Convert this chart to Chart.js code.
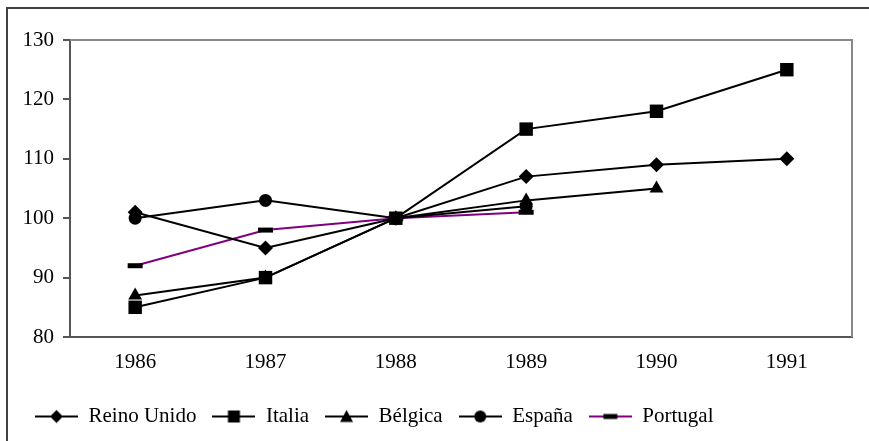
<!DOCTYPE html>
<html>
<head>
<meta charset="utf-8">
<script src="https://cdn.jsdelivr.net/npm/chart.js@4.4.1/dist/chart.umd.min.js"></script>
<style>
  html, body { margin: 0; padding: 0; background: #fff; overflow: hidden; }
  #chart { display: block; }
</style>
</head>
<body>
<canvas id="chart" width="869" height="441"></canvas>
<script>
let years = ['1986', '1987', '1988', '1989', '1990', '1991'];

let reinoUnido = [101, 95, 100, 107, 109, 110];
let italia = [85, 90, 100, 115, 118, 125];
let belgica = [87, 90, 100, 103, 105, null];
let espana = [100, 103, 100, 102, null, null];
let portugal = [92, 98, 100, 101, null, null];

let yTicks = [80, 90, 100, 110, 120, 130];

let serif = '"Liberation Serif", "Times New Roman", serif';

// little "line + marker" pictures for the legend, like the old office charts
function legendIcon(style, lineColor) {
    var w = 43, m = w / 2;
    var c = document.createElement('canvas');
    c.width = w;
    c.height = 16;
    var g = c.getContext('2d');
    g.strokeStyle = lineColor;
    g.lineWidth = 2;
    g.beginPath();
    g.moveTo(0, 8);
    g.lineTo(w, 8);
    g.stroke();
    g.fillStyle = '#000';
    g.beginPath();
    if (style == 'diamond') {
        g.moveTo(m, 1.5); g.lineTo(m + 6.5, 8); g.lineTo(m, 14.5); g.lineTo(m - 6.5, 8);
    } else if (style == 'square') {
        g.rect(m - 6, 2, 12, 12);
    } else if (style == 'triangle') {
        g.moveTo(m, 1.5); g.lineTo(m + 6.5, 13.5); g.lineTo(m - 6.5, 13.5);
    } else if (style == 'circle') {
        g.arc(m, 8, 6, 0, Math.PI * 2);
    } else {
        g.rect(m - 7, 5.5, 14, 5);
    }
    g.closePath();
    g.fill();
    return c;
}

function series(label, values, pointStyle, radius, icon, color) {
    return {
        label: label,
        data: values,
        borderColor: color || '#000',
        borderWidth: 2,
        backgroundColor: '#000',
        pointStyle: pointStyle,
        pointRadius: radius,
        pointHoverRadius: radius,
        pointBackgroundColor: '#000',
        pointBorderColor: '#000',
        pointBorderWidth: pointStyle == 'line' ? 5 : 0,
        spanGaps: false,
        tension: 0,
        clip: false,
        legendIcon: icon
    };
}

let frame = {
    id: 'frame',
    beforeDraw(chart) {
        let ctx = chart.ctx;
        ctx.save();
        ctx.fillStyle = '#fff';
        ctx.fillRect(0, 0, chart.width, chart.height);
        ctx.strokeStyle = '#404040';
        ctx.lineWidth = 2;
        ctx.strokeRect(7, 8, 900, 500);
        ctx.restore();
    },
    afterLayout(chart) {
        // the legend row sits left of centre in the original
        let lg = chart.legend;
        lg.left = 19;
    },
    beforeDatasetsDraw(chart) {
        let a = chart.chartArea;
        let ctx = chart.ctx;
        ctx.save();
        ctx.strokeStyle = '#888';
        ctx.lineWidth = 2;
        ctx.beginPath();
        ctx.moveTo(a.left, a.top);
        ctx.lineTo(a.right, a.top);
        ctx.lineTo(a.right, a.bottom);
        ctx.stroke();
        ctx.restore();
    }
};

var ctx = document.getElementById('chart');
var chart = new Chart(ctx, {
    type: 'line',
    data: {
        labels: years,
        datasets: [
            series('Reino Unido', reinoUnido, 'rectRot', 7.5, legendIcon('diamond', '#000')),
            series('Italia', italia, 'rect', 9.5, legendIcon('square', '#000')),
            series('Bélgica', belgica, 'triangle', 8, legendIcon('triangle', '#000')),
            series('España', espana, 'circle', 6.5, legendIcon('circle', '#000')),
            series('Portugal', portugal, 'line', 7.5, legendIcon('dash', '#800080'), '#800080')
        ]
    },
    options: {
        responsive: false,
        animation: false,
        layout: {
            padding: { top: 40, right: 17, bottom: 4, left: 0 }
        },
        scales: {
            x: {
                offset: true,
                grid: { display: false, drawTicks: false },
                border: { display: true, color: '#555', width: 2 },
                ticks: {
                    color: '#000',
                    padding: 13,
                    font: { family: serif, size: 21 }
                },
                afterFit(scale) { scale.height = 53; }
            },
            y: {
                min: 80,
                max: 130,
                afterBuildTicks(scale) {
                    scale.ticks = yTicks.map(v => ({ value: v }));
                },
                grid: {
                    display: true,
                    drawOnChartArea: false,
                    drawTicks: true,
                    tickLength: 7,
                    color: '#555',
                    lineWidth: 2
                },
                border: { display: true, color: '#555', width: 2 },
                ticks: {
                    color: '#000',
                    padding: 9,
                    font: { family: serif, size: 21 }
                },
                afterFit(scale) { scale.width = 70; }
            }
        },
        plugins: {
            legend: {
                position: 'bottom',
                align: 'start',
                labels: {
                    usePointStyle: true,
                    pointStyleWidth: 43,
                    padding: 16,
                    color: '#000',
                    font: { family: serif, size: 21 },
                    generateLabels(chart) {
                        return chart.data.datasets.map((ds, i) => ({
                            text: ds.label,
                            pointStyle: ds.legendIcon,
                            fillStyle: '#000',
                            strokeStyle: '#000',
                            lineWidth: 0,
                            fontColor: '#000',
                            hidden: false,
                            datasetIndex: i
                        }));
                    }
                }
            },
            tooltip: { enabled: false }
        }
    },
    plugins: [frame]
});
</script>
</body>
</html>
